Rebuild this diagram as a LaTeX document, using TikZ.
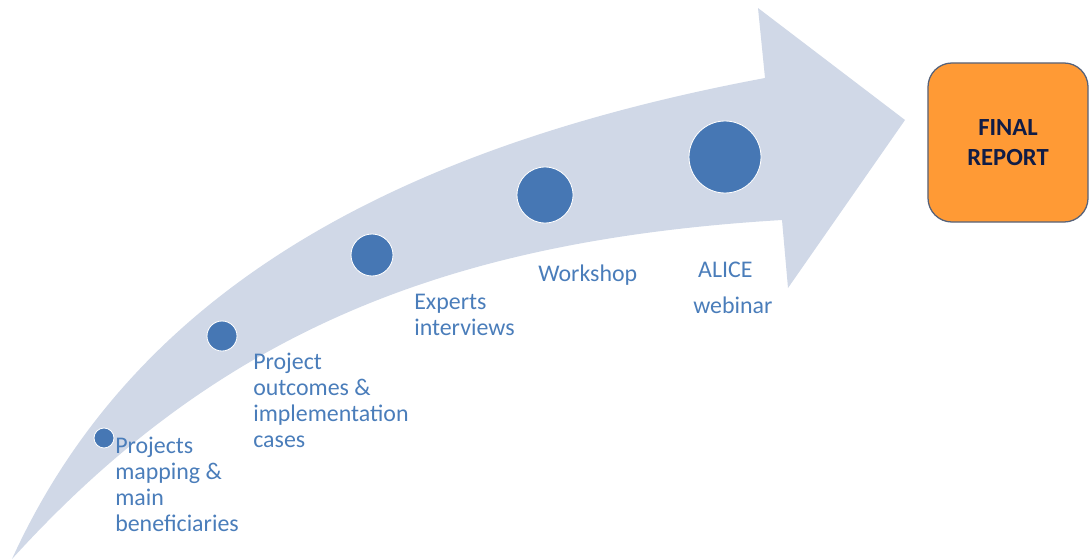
\documentclass[tikz,border=0pt]{standalone}
\usepackage{fontspec}
\setmainfont{Carlito}
\usepackage{tikz}
\usetikzlibrary{positioning}

\definecolor{bandgray}{HTML}{D0D8E7}
\definecolor{dotblue}{HTML}{4677B4}
\definecolor{labelblue}{HTML}{4A7DBA}
\definecolor{reportorange}{HTML}{FF9A35}
\definecolor{reportedge}{HTML}{56627A}
\definecolor{reportnavy}{HTML}{101C46}

\tikzset{
  dot/.style={circle,fill=dotblue,draw=white,line width=0.6pt,inner sep=0pt},
  steplabel/.style={anchor=base west,align=left,inner sep=0pt,text=labelblue,
    font=\fontsize{17}{18.4}\selectfont},
}

\begin{document}
\begin{tikzpicture}[x=0.025cm,y=-0.025cm]
\useasboundingbox (0,0) rectangle (1089,559);
\coordinate (T) at (12,559);
\coordinate (U) at (765,78);
\coordinate (K) at (758,8);
\coordinate (P) at (905,120);
\coordinate (M) at (788,288);
\coordinate (L) at (782,220);
\fill[bandgray] (T) .. controls (130,300) and (380,150) .. (U) -- (K) -- (P) -- (M) -- (L)
  .. controls (450,240) and (220,330) .. cycle;

\node[dot,minimum size=20pt*0.025/0.03514] (d1) at (104,438) {};
\node[dot,minimum size=30pt*0.025/0.03514] (d2) at (222,336) {};
\node[dot,minimum size=42pt*0.025/0.03514] (d3) at (372,255) {};
\node[dot,minimum size=56pt*0.025/0.03514] (d4) at (545,195) {};
\node[dot,minimum size=72pt*0.025/0.03514] (d5) at (725,157) {};

% base = last line
\node[steplabel] (l1) at (115,531.6) {Projects\\mapping \&\\main\\beneficiaries};
\node[steplabel] (l2) at (253,447.6) {Project\\outcomes \&\\implementation\\cases};
\node[steplabel] (l3) at (414,335.2) {Experts\\interviews};
\node[steplabel] (l4) at (538,281) {Workshop};
\node[steplabel] (l5) at (693,313) {\hspace*{3.5pt}ALICE\\[7pt]webinar};

\node[draw=reportedge,line width=0.9pt,fill=reportorange,rounded corners=0.6cm,
  minimum width=4cm,minimum height=3.975cm,align=center,text=reportnavy,
  font=\fontsize{17.5}{21.5}\selectfont\bfseries] (report) at (1008,142.5) {FINAL\\REPORT};
\end{tikzpicture}
\end{document}
